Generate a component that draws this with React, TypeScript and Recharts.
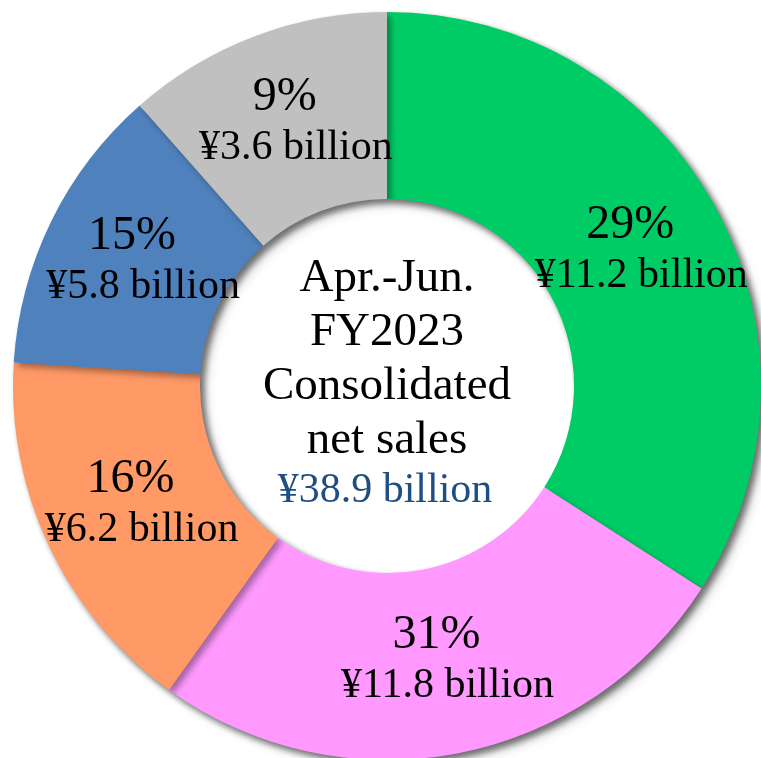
import React from 'react';
import { PieChart, Pie, Cell } from 'recharts';

// segments, clockwise from 12 o'clock
const segments = ['Green', 'Pink', 'Orange', 'Blue', 'Gray'];
// share of the ring each slice takes in the picture (degrees / 3.6)
const sliceShares = [34.1, 25.8, 16.1, 12.5, 11.5];
const percentLabels = ['29%', '31%', '16%', '15%', '9%'];
const amountLabels = ['¥11.2 billion', '¥11.8 billion', '¥6.2 billion', '¥5.8 billion', '¥3.6 billion'];
const colors = ['#00CC66', '#FF99FF', '#FF9966', '#4F81BD', '#C0C0C0'];

const centerLines = ['Apr.-Jun.', 'FY2023', 'Consolidated', 'net sales'];
const centerTotal = '¥38.9 billion';

const W = 761;
const H = 758;
const CX = 387;
const CY = 386;
const FONT = '"Liberation Serif", "Times New Roman", serif';
const RADIAN = Math.PI / 180;

const chartData = segments.map((name, i) => ({
  name,
  share: sliceShares[i],
  pct: percentLabels[i],
  amount: amountLabels[i],
}));

const renderLabel = ({ cx, cy, midAngle, innerRadius, outerRadius, index }: any) => {
  const r = (innerRadius + outerRadius) / 2;
  const x = cx + r * Math.cos(-midAngle * RADIAN);
  const y = cy + r * Math.sin(-midAngle * RADIAN);
  return (
    <g>
      <text x={x - 3} y={y - 14} textAnchor="middle" fontSize={48} fill="#000" fontFamily={FONT}>
        {percentLabels[index]}
      </text>
      <text x={x + 8} y={y + 35} textAnchor="middle" fontSize={42} fill="#000" fontFamily={FONT}>
        {amountLabels[index]}
      </text>
    </g>
  );
};

const App: React.FC = () => {
  return (
    <div style={{ position: 'relative', width: W, height: H, overflow: 'hidden' }}>
      <style>{`
        body { margin: 0; }
        .ring-shadow { filter: drop-shadow(4px 4px 3px rgba(0,0,0,0.35)); }
      `}</style>
      <PieChart width={W} height={H} margin={{ top: 0, right: 0, bottom: 0, left: 0 }}>
        <Pie
          className="ring-shadow"
          data={chartData}
          dataKey="share"
          cx={CX}
          cy={CY}
          innerRadius={187}
          outerRadius={374}
          startAngle={90}
          endAngle={-270}
          stroke="none"
          label={false}
          labelLine={false}
          isAnimationActive={false}
        >
          {chartData.map((d, i) => (
            <Cell key={d.name} fill={colors[i]} />
          ))}
        </Pie>
        <Pie
          data={chartData}
          dataKey="share"
          cx={CX}
          cy={CY}
          innerRadius={187}
          outerRadius={374}
          startAngle={90}
          endAngle={-270}
          fill="transparent"
          stroke="none"
          label={renderLabel}
          labelLine={false}
          isAnimationActive={false}
        />
      </PieChart>
      <svg width={W} height={H} style={{ position: 'absolute', left: 0, top: 0, pointerEvents: 'none' }}>
        {centerLines.map((line, i) => (
          <text key={line} x={CX} y={291 + i * 54} textAnchor="middle" fontSize={47} fill="#000" fontFamily={FONT}>
            {line}
          </text>
        ))}
        <text x={CX - 2} y={502} textAnchor="middle" fontSize={42} fill="#1F4E82" fontFamily={FONT}>
          {centerTotal}
        </text>
      </svg>
    </div>
  );
};

export default App;
